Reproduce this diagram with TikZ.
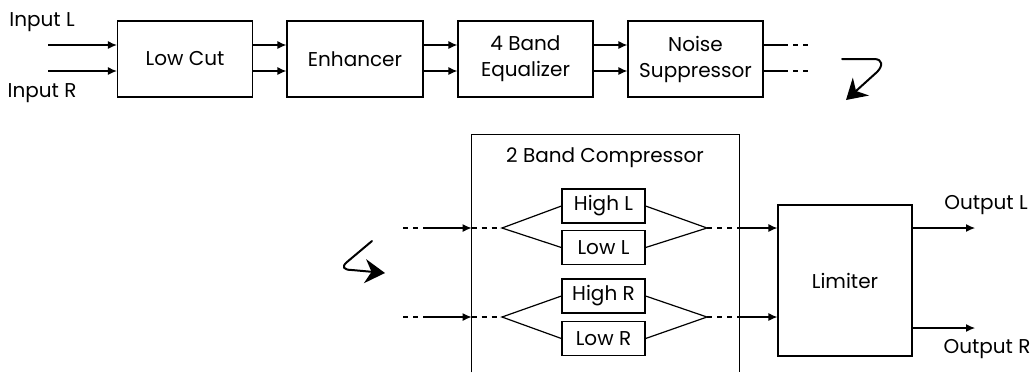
\documentclass[tikz,border=0pt]{standalone}
\usepackage{fontspec}
\setmainfont{Poppins}
\usetikzlibrary{arrows.meta}
\begin{document}
\begin{tikzpicture}[x=0.5pt,y=-0.5pt,
  every node/.style={font=\fontsize{10}{12}\selectfont},
  box/.style={draw,line width=0.6pt,inner sep=0pt,align=center},
  topbox/.style={box,minimum width=67.5pt,minimum height=38pt},
  smallbox/.style={box,minimum width=41.5pt,minimum height=17pt},
  line/.style={line width=0.6pt},
  arr/.style={line,-{Latex[length=4.5pt,width=4pt]}},
  dashline/.style={line,dash pattern=on 2.5pt off 2.5pt},
  bigarr/.style={line width=1pt,line cap=round,-{Stealth[length=10pt,width=12pt]}},
  lbl/.style={inner sep=0pt}]
\useasboundingbox (0,0) rectangle (1036,372);

% ---- top row
\node[lbl] (inL) at (42,22) {Input L};
\node[lbl] (inR) at (42,93) {Input R};
\coordinate (inLs) at (48,45);
\coordinate (inRs) at (48,71);

\node[topbox] (lowcut) at (185,59) {Low Cut};
\node[topbox,minimum width=68pt] (enh) at (355,59) {Enhancer};
\node[topbox] (eq) at (525.5,59) {4 Band\\[1pt]Equalizer};
\node[topbox] (ns) at (695.5,59) {Noise\\[1pt]Suppressor};

\draw[arr] (inLs) -- (inLs -| lowcut.west);
\draw[arr] (inRs) -- (inRs -| lowcut.west);
\foreach \a/\b in {lowcut/enh,enh/eq,eq/ns}{
  \draw[arr] (inLs -| \a.east) -- (inLs -| \b.west);
  \draw[arr] (inRs -| \a.east) -- (inRs -| \b.west);
}
\coordinate (nsL1) at (783,45); \coordinate (nsL2) at (808,45);
\coordinate (nsR1) at (783,71); \coordinate (nsR2) at (808,71);
\draw[line] (inLs -| ns.east) -- (nsL1);
\draw[line] (inRs -| ns.east) -- (nsR1);
\draw[dashline] (nsL1) -- (nsL2);
\draw[dashline] (nsR1) -- (nsR2);

% turning arrows
\draw[bigarr] (842,59) -- (874,59) .. controls (883,59) and (883,66) .. (877,72) -- (846,100);
\draw[bigarr] (372,241) -- (347,262) .. controls (341,267) and (344,270) .. (352,270) -- (385,273);

% ---- compressor
\node[minimum width=133.5pt,minimum height=118.5pt,inner sep=0pt] (comp) at (605.5,253.5) {};
\draw[line] (comp.south west) -- (comp.north west) -- (comp.north east) -- (comp.south east);
\node[lbl] (comptitle) at (605,158) {2 Band Compressor};

\node[smallbox] (hiL) at (603.5,206) {High L};
\node[smallbox] (loL) at (603.5,247.5) {Low L};
\node[smallbox] (hiR) at (603.5,296) {High R};
\node[smallbox] (loR) at (603.5,338.5) {Low R};

\coordinate (spL) at (502,228); \coordinate (mgL) at (707,228);
\coordinate (spR) at (502,317); \coordinate (mgR) at (707,317);
\coordinate (cinL0) at (403,228); \coordinate (cinL1) at (425,228);
\coordinate (cinR0) at (403,317); \coordinate (cinR1) at (425,317);

\draw[dashline] (cinL0) -- (cinL1);
\draw[dashline] (cinR0) -- (cinR1);
\draw[arr] (cinL1) -- (cinL1 -| comp.west);
\draw[arr] (cinR1) -- (cinR1 -| comp.west);
\draw[dashline] (spL -| comp.west) -- (spL);
\draw[dashline] (spR -| comp.west) -- (spR);
\draw[line] (hiL.west) -- (spL) -- (loL.west);
\draw[line] (hiR.west) -- (spR) -- (loR.west);
\draw[line] (hiL.east) -- (mgL) -- (loL.east);
\draw[line] (hiR.east) -- (mgR) -- (loR.east);
\draw[dashline] (mgL) -- (mgL -| comp.east);
\draw[dashline] (mgR) -- (mgR -| comp.east);

% ---- limiter
\node[box,minimum width=67pt,minimum height=75.5pt] (lim) at (845,280.5) {Limiter};
\draw[arr] (mgL -| comp.east) -- (mgL -| lim.west);
\draw[arr] (mgR -| comp.east) -- (mgR -| lim.west);

\coordinate (outL) at (975,228);
\coordinate (outR) at (975,328);
\draw[arr] (outL -| lim.east) -- (outL);
\draw[arr] (outR -| lim.east) -- (outR);
\node[lbl] (outLt) at (986,205) {Output L};
\node[lbl] (outRt) at (987,349) {Output R};
\end{tikzpicture}
\end{document}
